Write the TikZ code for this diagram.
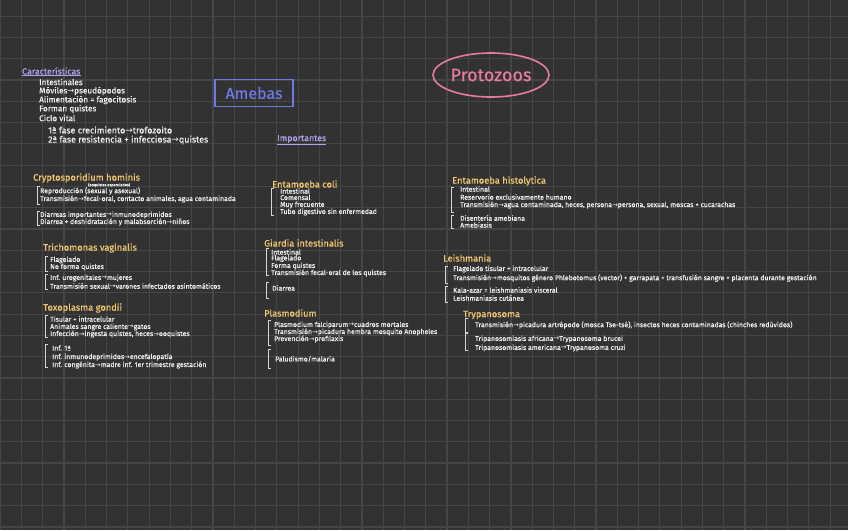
\documentclass[tikz,border=0pt]{standalone}
\usepackage{fontspec}
\usetikzlibrary{shapes.geometric}
\setmainfont{Fira Sans}[FakeBold=0.5]
\newfontfamily\arrowfont{DejaVu Sans}
\newcommand\ra{{\arrowfont →}}
\newcommand\fs[1]{\fontsize{#1}{#1}\selectfont}
\definecolor{bg}{HTML}{323232}
\definecolor{gridc}{HTML}{464646}
\definecolor{txt}{HTML}{F2F2F2}
\definecolor{ylw}{HTML}{F3C872}
\definecolor{prp}{HTML}{B4A2F0}
\definecolor{blu}{HTML}{6F78E6}
\definecolor{pnk}{HTML}{E97BA0}
\tikzset{
  wt/.style={font=\fs{6.9}, text=txt, anchor=west, inner sep=0pt},
  wtb/.style={font=\fs{8.2}, text=txt, anchor=west, inner sep=0pt},
  wtc/.style={font=\fs{8.9}, text=txt, anchor=west, inner sep=0pt},
  ttl/.style={font=\fs{9.3}, text=ylw, anchor=west, inner sep=0pt},
  hdr/.style={font=\fs{8.8}, text=prp, anchor=west, inner sep=0pt},
  brk/.style={draw=txt!85!bg, line width=0.8pt},
  gridline/.style={draw=gridc, line width=1.2pt},
}
\newcommand\bkt[3]{\draw[brk] (#1+2.5,#2) -- (#1,#2) -- (#1,#3) -- (#1+2.5,#3);}
\begin{document}
\begin{tikzpicture}[x=1pt,y=-1pt]
\useasboundingbox (0,0) rectangle (848,530);
\fill[bg] (0,0) rectangle (848,530);
\foreach \i in {0,...,40} {\draw[gridline] (0.2+\i*21.28,0) -- (0.2+\i*21.28,530);}
\foreach \i in {-1,...,25} {\draw[gridline] (0,16.2+\i*21.28) -- (848,16.2+\i*21.28);}

% Características
\node[hdr] (car) at (22,71) {Características};
\draw[prp, line width=0.6pt] ([yshift=-1pt]car.south west) -- ([yshift=-1pt]car.south east);
\node[wtb] (c1) at (39,82) {Intestinales};
\node[wtb] (c2) at (39,91) {Móviles\ra pseudópodos};
\node[wtb] (c3) at (39,100) {Alimentación = fagocitosis};
\node[wtb] (c4) at (39,109) {Forman quistes};
\node[wtb] (c5) at (39,118) {Ciclo vital};
\node[wtc] (c6) at (48,130) {1ª fase crecimiento\ra trofozoito};
\node[wtc] (c7) at (48,140) {2ª fase resistencia + infecciosa\ra quistes};

% Amebas / Protozoos
\node[draw=blu, line width=1.3pt, minimum width=78pt, minimum height=27pt, text=blu, font=\fs{16}, inner sep=0pt] (ameb) at (254,93) {Amebas};
\node[draw=pnk, ellipse, line width=1.6pt, minimum width=116pt, minimum height=44pt, text=pnk, font=\fs{18}, inner sep=0pt] (prot) at (491,75) {Protozoos};

\node[hdr] (imp) at (277,139) {Importantes};
\draw[prp, line width=0.6pt] ([yshift=-1pt]imp.south west) -- ([yshift=-1pt]imp.south east);

% Cryptosporidium
\node[ttl] (cry) at (33,178) {Cryptosporidium hominis};
\node[font=\fs{3.8}, text=txt, anchor=west, inner sep=0pt] (crya) at (88,185) {(ooquistes esporulados)};
\bkt{37}{186}{204}
\node[wt] (cr1) at (40,191) {Reproducción (sexual y asexual)};
\node[wt] (cr2) at (40,199) {Transmisión\ra fecal-oral, contacto animales, agua contaminada};
\bkt{37}{211}{225}
\node[wt] (cr3) at (40,215) {Diarreas importantes\ra inmunodeprimidos};
\node[wt] (cr4) at (40,222) {Diarrea + deshidratación y malabsorción\ra niños};

% Trichomonas
\node[ttl] (tri) at (43,248) {Trichomonas vaginalis};
\bkt{45}{256}{271}
\node[wt] (tr1) at (50,260) {Flagelado};
\node[wt] (tr2) at (50,267) {No forma quistes};
\bkt{45}{274}{289}
\node[wt] (tr3) at (50,278) {Inf. urogenitales\ra mujeres};
\node[wt] (tr4) at (50,286) {Transmisión sexual\ra varones infectados asintomáticos};

% Toxoplasma
\node[ttl] (tox) at (43,308) {Toxoplasma gondii};
\bkt{45}{315}{337}
\node[wt] (to1) at (50,319) {Tisular + intracelular};
\node[wt] (to2) at (50,327) {Animales sangre caliente\ra gatos};
\node[wt] (to3) at (50,334) {Infección\ra ingesta quistes, heces\ra ooquistes};
\bkt{45}{344}{367}
\node[wt] (to4) at (52,348) {Inf. 1ª};
\node[wt] (to5) at (52,357) {Inf. inmunodeprimidos\ra encefalopatía};
\node[wt] (to6) at (52,365) {Inf. congénita\ra madre inf. 1er trimestre gestación};

% Entamoeba coli
\node[ttl] (eco) at (272,184) {Entamoeba coli};
\bkt{271}{188}{215}
\node[wt] (ec1) at (280,191) {Intestinal};
\node[wt] (ec2) at (280,197.5) {Comensal};
\node[wt] (ec3) at (280,205) {Muy frecuente};
\node[wt] (ec4) at (280,212) {Tubo digestivo sin enfermedad};

% Giardia
\node[ttl] (gia) at (264,243) {Giardia intestinalis};
\bkt{266}{248}{275}
\node[wt] (gi1) at (271,252) {Intestinal};
\node[wt] (gi2) at (271,258.5) {Flagelado};
\node[wt] (gi3) at (271,266) {Forma quistes};
\node[wt] (gi4) at (271,273) {Transmisión fecal-oral de los quistes};
\bkt{266}{282}{298}
\node[wt] (gi5) at (272,288) {Diarrea};

% Plasmodium
\node[ttl] (pla) at (264,313) {Plasmodium};
\bkt{268}{320}{345}
\node[wt] (pl1) at (274,325) {Plasmodium falciparum\ra cuadros mortales};
\node[wt] (pl2) at (274,332) {Transmisión\ra picadura hembra mosquito Anopheles};
\node[wt] (pl3) at (274,339) {Prevención\ra profilaxis};
\bkt{268}{349}{368}
\node[wt] (pl4) at (275,359) {Paludismo/malaria};

% Entamoeba histolytica
\node[ttl] (ehi) at (452,181) {Entamoeba histolytica};
\bkt{451}{187}{212}
\node[wt] (eh1) at (460,189) {Intestinal};
\node[wt] (eh2) at (460,197) {Reservorio exclusivamente humano};
\node[wt] (eh3) at (460,205) {Transmisión\ra agua contaminada, heces, persona\ra persona, sexual, moscas + cucarachas};
\bkt{451}{215}{228}
\node[wt] (eh4) at (460,218) {Disentería amebiana};
\node[wt] (eh5) at (460,225) {Amebiasis};

% Leishmania
\node[ttl] (lei) at (443,258) {Leishmania};
\bkt{445}{266}{283}
\node[wt] (le1) at (453,269) {Flagelado tisular + intracelular};
\node[wt] (le2) at (453,278) {Transmisión\ra mosquitos género Phlebotomus (vector) + garrapata + transfusión sangre + placenta durante gestación};
\bkt{445}{286}{302}
\node[wt] (le3) at (453,290) {Kala-azar = leishmaniasis visceral};
\node[wt] (le4) at (453,298) {Leishmaniasis cutánea};

% Trypanosoma
\node[ttl] (try) at (463,315) {Trypanosoma};
\bkt{465}{318}{332}
\node[wt] (ty1) at (475,325) {Transmisión\ra picadura artrópodo (mosca Tse-tsé), insectos heces contaminadas (chinches redúvidos)};
\bkt{465}{333}{350}
\node[wt] (ty2) at (475,339) {Tripanosomiasis africana\ra Trypanosoma brucei};
\node[wt] (ty3) at (475,348) {Tripanosomiasis americana\ra Trypanosoma cruzi};
\end{tikzpicture}
\end{document}
